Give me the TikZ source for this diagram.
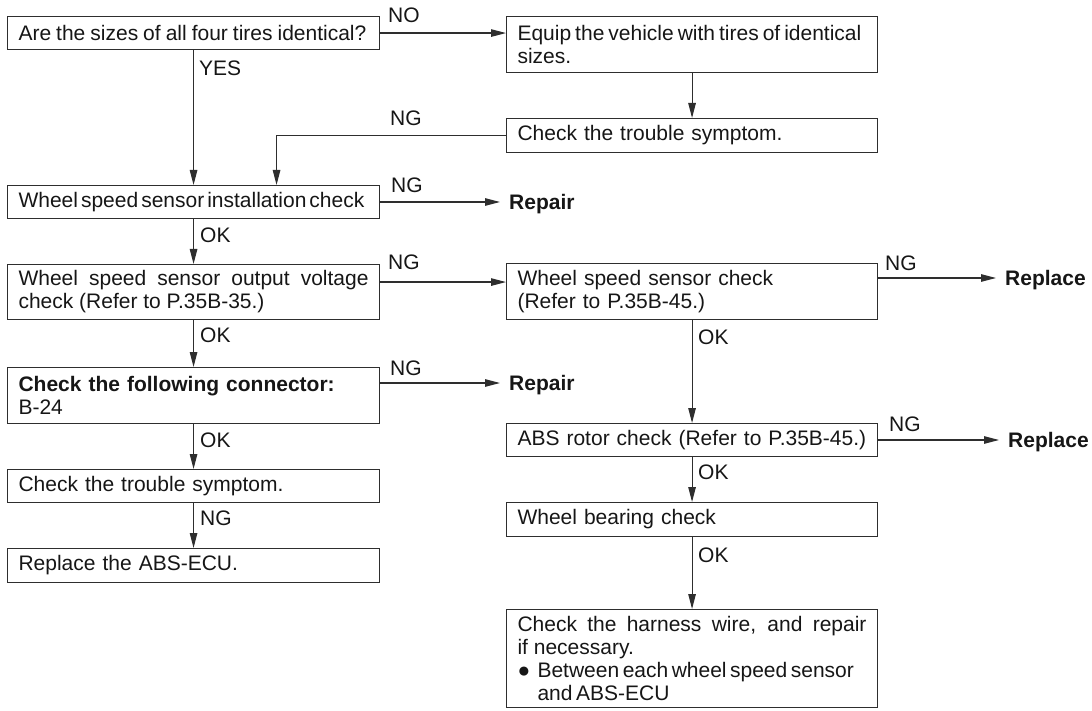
\documentclass[tikz,border=0pt]{standalone}
\usepackage{fontspec}
\setmainfont{Liberation Sans}
\usepackage{tikz}
\usetikzlibrary{arrows.meta,calc,positioning}
\definecolor{tinta}{HTML}{161616}
\definecolor{linea}{HTML}{2E2E2E}
\newcommand{\letra}{\fontsize{21}{23}\selectfont}
\newcommand{\apretado}[1]{\spaceskip=#1 plus 1pt minus 1pt\relax}
\tikzset{
  caja/.style={rectangle,draw=linea,line width=1.1pt,anchor=north west,inner xsep=11pt,inner ysep=0pt,text width=350pt,align=left,font=\letra,text=tinta},
  cajader/.style={caja,text width=349pt},
  flecha/.style={draw=linea,line width=1.1pt,-{Triangle[length=15pt,width=7.5pt]}},
  etiqueta/.style={anchor=west,inner sep=0pt,text height=15pt,text depth=0pt,font=\letra,text=tinta},
  resultado/.style={anchor=west,inner xsep=9pt,inner ysep=0pt,text height=15pt,text depth=0pt,font=\letra\bfseries,text=tinta},
}
\begin{document}
\begin{tikzpicture}[x=1pt,y=-1pt]
\useasboundingbox (0,0) rectangle (1092,711);
\node[caja,minimum height=33pt] (pregunta) at (7,16) {\apretado{5pt}Are the sizes of all four tires identical?};
\node[cajader,minimum height=56pt] (equipar) at (506,16) {\apretado{4pt}Equip the vehicle with tires of identical\\sizes.};
\node[cajader,minimum height=34pt] (sintoma1) at (506,118) {Check the trouble symptom.};
\node[caja,minimum height=33pt] (instalacion) at (7,185) {\apretado{3pt}Wheel speed sensor installation check};
\node[caja,minimum height=55pt,align=justify] (voltaje) at (7,264) {Wheel speed sensor output voltage\linebreak check (Refer to P.35B-35.)};
\node[caja,minimum height=56pt] (conector) at (7,367) {\textbf{Check the following connector:}\\B-24};
\node[caja,minimum height=33pt] (sintoma2) at (7,469) {Check the trouble symptom.};
\node[caja,minimum height=34pt] (ecu) at (7,548) {Replace the ABS-ECU.};
\node[cajader,minimum height=56pt] (sensor) at (506,263) {Wheel speed sensor check\\(Refer to P.35B-45.)};
\node[cajader,minimum height=33pt] (rotor) at (506,423) {ABS rotor check (Refer to P.35B-45.)};
\node[cajader,minimum height=34pt] (rodamiento) at (506,502) {Wheel bearing check};
\node[cajader,minimum height=98pt,align=justify] (arnes) at (506,609) {Check the harness wire, and repair\linebreak if necessary.\\\makebox[20pt][l]{●}\parbox[t]{329pt}{\apretado{3.5pt}Between each wheel speed sensor\\and ABS-ECU}};
\node[resultado] (reparar1) at (500,202) {Repair};
\node[resultado] (reparar2) at (500,383) {Repair};
\node[resultado] (cambiar1) at (996,278) {Replace};
\node[resultado] (cambiar2) at (999,440) {Replace};
\node[etiqueta] (eno) at (388,15) {NO};
\node[etiqueta] (esi) at (199,68) {YES};
\node[etiqueta] (eng1) at (390,118) {NG};
\node[etiqueta] (eng2) at (391,185) {NG};
\node[etiqueta] (eok1) at (200,235) {OK};
\node[etiqueta] (eng3) at (388,262) {NG};
\node[etiqueta] (eok2) at (200,335) {OK};
\node[etiqueta] (eng4) at (390,368) {NG};
\node[etiqueta] (eok3) at (200,440) {OK};
\node[etiqueta] (eng5) at (200,518) {NG};
\node[etiqueta] (eng6) at (885,263) {NG};
\node[etiqueta] (eok4) at (698,337) {OK};
\node[etiqueta] (eng7) at (889,424) {NG};
\node[etiqueta] (eok5) at (698,472) {OK};
\node[etiqueta] (eok6) at (698,555) {OK};
\draw[flecha] (pregunta.east) -- (equipar.west |- pregunta.east);
\draw[flecha] (pregunta.south) -- (instalacion.north);
\draw[flecha] (equipar.south) -- (sintoma1.north);
\draw[flecha] (sintoma1.west) -| ([xshift=83pt]instalacion.north);
\draw[flecha] (reparar1.west -| instalacion.east) -- (reparar1.west);
\draw[flecha] (instalacion.south) -- (voltaje.north);
\draw[flecha] ([yshift=10pt]voltaje.east) -- ([yshift=10pt]voltaje.east -| sensor.west);
\draw[flecha] (voltaje.south) -- (conector.north);
\draw[flecha] (reparar2.west -| conector.east) -- (reparar2.west);
\draw[flecha] (conector.south) -- (sintoma2.north);
\draw[flecha] (sintoma2.south) -- (ecu.north);
\draw[flecha] (cambiar1.west -| sensor.east) -- (cambiar1.west);
\draw[flecha] (sensor.south) -- (rotor.north);
\draw[flecha] (cambiar2.west -| rotor.east) -- (cambiar2.west);
\draw[flecha] (rotor.south) -- (rodamiento.north);
\draw[flecha] (rodamiento.south) -- (arnes.north);
\end{tikzpicture}
\end{document}
